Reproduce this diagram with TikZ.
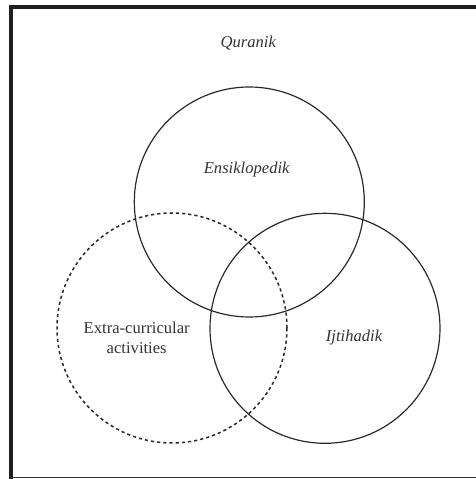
\documentclass[tikz,border=0pt]{standalone}
\usepackage{fontspec}
\setmainfont{Liberation Serif}
\definecolor{inkgray}{HTML}{2A2A2A}
\definecolor{textgray}{HTML}{333333}
\begin{document}
\begin{tikzpicture}[x=1pt,y=1pt,
    setline/.style={line width=1.2pt, draw=inkgray},
    setlabel/.style={font=\fontsize{16.6}{19.4}\selectfont, text=textgray, align=center, inner sep=0pt}]
            \useasboundingbox (0,0) rectangle (476,479);

            % frame: thick on the left and top, thin at the bottom
            \draw[line width=4.3pt, draw=black!88] (11,0) -- (11,472.2) -- (476,472.2);
            \draw[line width=1.5pt, draw=black!80] (11,1.5) -- (476,1.5);

            % three sets
            \draw[setline] (249.3,277) circle (115);            % Ensiklopedik
            \draw[setline] (325,150.7) circle (115);            % Ijtihadik
            \draw[setline, line width=1.5pt, dash pattern=on 3.2pt off 3pt] (172,151) circle (115); % Extra-curricular

            % labels
            \node[setlabel] (quranik) at (248.3,435.7) {\itshape Quranik};
            \node[setlabel] (ensiklopedik) at (246.7,309) {\itshape Ensiklopedik};
            \node[setlabel] (ijtihadik) at (354,141.7) {\itshape Ijtihadik};
            \node[setlabel] (extra) at (136.7,141) {Extra-curricular\\activities};

\end{tikzpicture}
\end{document}
